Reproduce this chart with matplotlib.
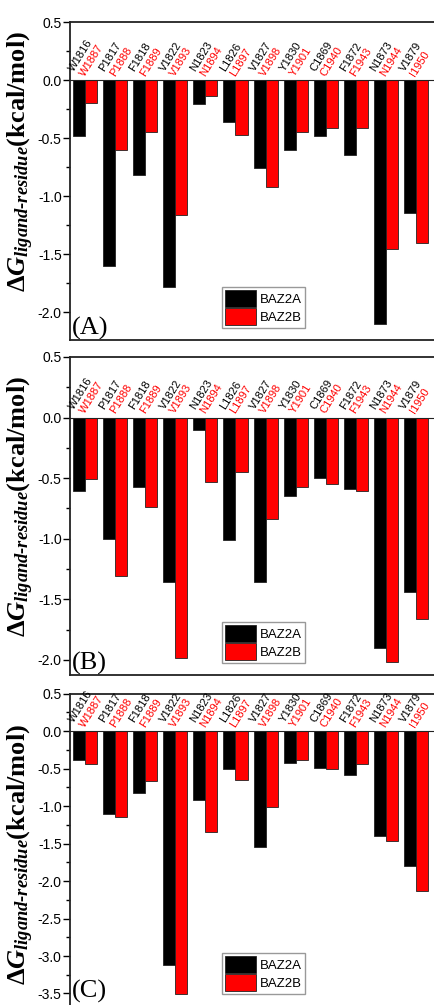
import numpy as np
import matplotlib
matplotlib.use('Agg')
import matplotlib.pyplot as plt
from matplotlib.ticker import MultipleLocator

# Residuos de cada proteína (BAZ2A en negro, BAZ2B en rojo)
res_baz2a = ['W1816', 'P1817', 'F1818', 'V1822', 'N1823', 'L1826',
             'V1827', 'Y1830', 'C1869', 'F1872', 'N1873', 'V1879']
res_baz2b = ['W1887', 'P1888', 'F1889', 'V1893', 'N1894', 'L1897',
             'V1898', 'Y1901', 'C1940', 'F1943', 'N1944', 'I1950']

# Energía de interacción por residuo (kcal/mol), panel A
a_baz2a = [-0.48, -1.60, -0.82, -1.78, -0.21, -0.36, -0.76, -0.60, -0.48, -0.65, -2.10, -1.15]
a_baz2b = [-0.20, -0.60, -0.45, -1.16, -0.14, -0.47, -0.92, -0.45, -0.41, -0.41, -1.46, -1.40]
# panel B
b_baz2a = [-0.61, -1.00, -0.57, -1.36, -0.10, -1.01, -1.36, -0.65, -0.50, -0.59, -1.90, -1.44]
b_baz2b = [-0.51, -1.31, -0.74, -1.98, -0.53, -0.45, -0.84, -0.57, -0.55, -0.61, -2.02, -1.66]
# panel C
c_baz2a = [-0.39, -1.10, -0.82, -3.12, -0.92, -0.51, -1.55, -0.43, -0.49, -0.59, -1.40, -1.80]
c_baz2b = [-0.44, -1.14, -0.67, -3.51, -1.35, -0.65, -1.01, -0.39, -0.50, -0.44, -1.46, -2.13]

panel_names = ['(A)', '(B)', '(C)']
ytick_vals = [[0.5, 0.0, -0.5, -1.0, -1.5, -2.0],
              [0.5, 0.0, -0.5, -1.0, -1.5, -2.0],
              [0.5, 0.0, -0.5, -1.0, -1.5, -2.0, -2.5, -3.0, -3.5]]

plt.rcParams['axes.unicode_minus'] = False
plt.rcParams['font.family'] = ['Liberation Sans', 'DejaVu Sans']
plt.rcParams['mathtext.fontset'] = 'custom'
plt.rcParams['mathtext.rm'] = 'Liberation Serif:bold'
plt.rcParams['mathtext.it'] = 'Liberation Serif:italic:bold'
plt.rcParams['mathtext.bf'] = 'Liberation Serif:bold'

fig = plt.figure(figsize=(4.35, 10.05), dpi=100)

# posiciones de los ejes (fracción de la figura) y límites en y
boxes = [[0.161, 0.6617, 0.8437, 0.3164],
         [0.161, 0.3284, 0.8437, 0.3164],
         [0.161, -0.004, 0.8437, 0.3139]]
ylims = [(-2.24, 0.5), (-2.124, 0.5), (-3.707, 0.5)]
label_y = [0.56, 0.53, 0.49]
name_y = [0.0, 0.0, 0.02]
datos = [(a_baz2a, a_baz2b), (b_baz2a, b_baz2b), (c_baz2a, c_baz2b)]

x = np.arange(len(res_baz2a))
w = 0.4

for k in range(3):
    ax = fig.add_axes(boxes[k])
    va, vb = datos[k]
    ax.bar(x - w / 2, va, width=w, color='black', edgecolor='#222222', linewidth=0.6, label='BAZ2A')
    ax.bar(x + w / 2, vb, width=w, color='#ff0000', edgecolor='#222222', linewidth=0.6, label='BAZ2B')
    ax.axhline(0, color='#222222', linewidth=0.8)

    ax.set_xlim(-0.5, 11.7)
    ax.set_ylim(*ylims[k])
    ax.set_xticks([])
    ax.set_yticks(ytick_vals[k])
    ax.set_yticklabels(['%.1f' % v for v in ytick_vals[k]])
    ax.yaxis.set_minor_locator(MultipleLocator(0.25))
    ax.tick_params(axis='y', which='major', direction='out', length=5, width=1, labelsize=10, pad=1)
    ax.tick_params(axis='y', which='minor', direction='out', length=3, width=1)
    ax.spines['right'].set_visible(False)
    for s in ['left', 'top', 'bottom']:
        ax.spines[s].set_linewidth(1.3)
        ax.spines[s].set_color('#222222')

    # etiquetas de residuos inclinadas sobre cada barra
    for i in range(len(x)):
        ax.annotate(res_baz2a[i], (x[i] - 0.3, 0), xytext=(0, 5), textcoords='offset points',
                    rotation=58, rotation_mode='anchor', ha='left', va='bottom',
                    fontsize=8, color='black')
        ax.annotate(res_baz2b[i], (x[i] + 0.04, 0), xytext=(0, 1.5), textcoords='offset points',
                    rotation=58, rotation_mode='anchor', ha='left', va='bottom',
                    fontsize=8, color='#ff0000')

    ax.text(0.006, name_y[k], panel_names[k], transform=ax.transAxes, ha='left', va='bottom',
            fontsize=19, family='Liberation Serif')

    ax.set_ylabel(r'$\Delta G_{ligand\text{-}residue}$(kcal/mol)',
                  family='Liberation Serif', weight='bold', fontsize=19)
    ax.yaxis.set_label_coords(-0.093, label_y[k])

    leg_y = 0.038 if k < 2 else 0.048
    ax.legend(loc='lower left', bbox_to_anchor=(0.414, leg_y), fontsize=9.5,
              frameon=True, fancybox=False, edgecolor='#999999', framealpha=1,
              handlelength=2.4, handleheight=1.6, handletextpad=0.3,
              borderpad=0.2, labelspacing=0.1, borderaxespad=0)

plt.savefig('out.png', dpi=100)
